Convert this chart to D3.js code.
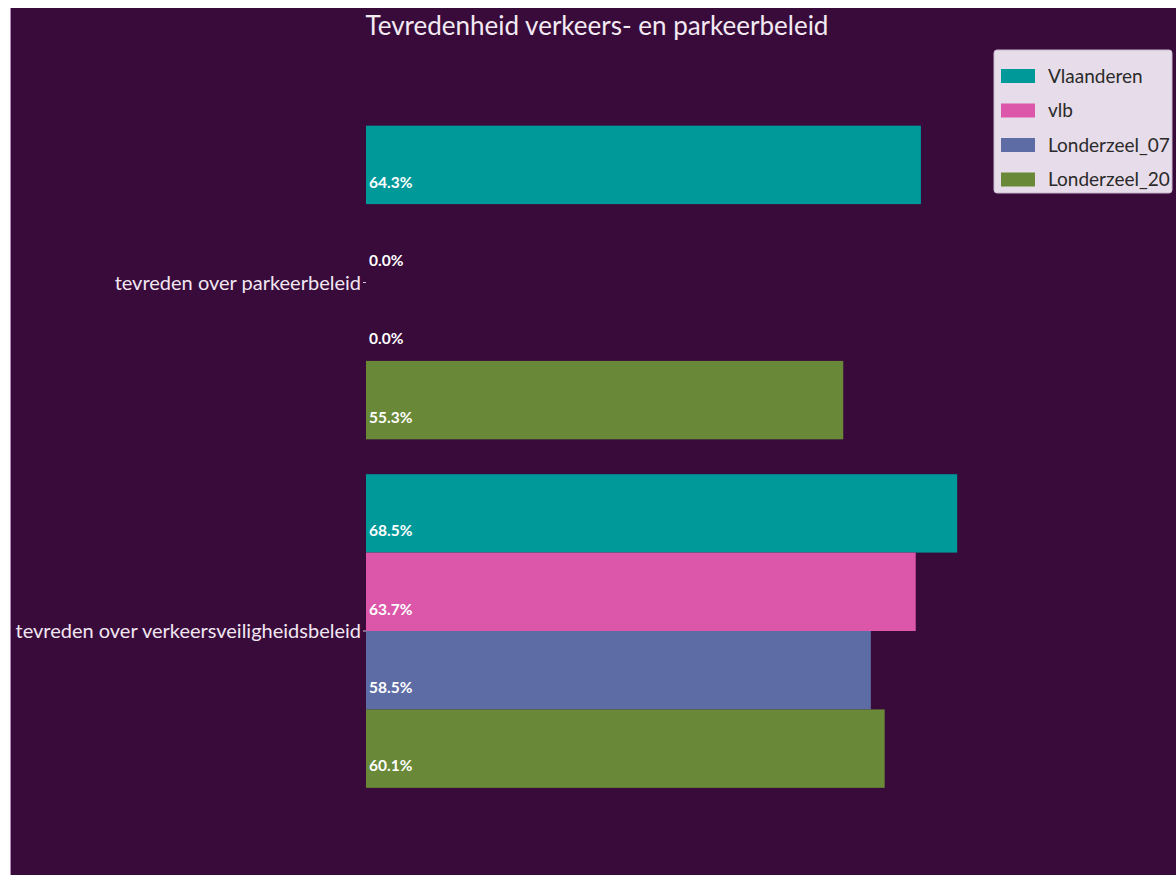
<!DOCTYPE html>
<html>
<head>
<meta charset="utf-8">
<script src="https://cdn.jsdelivr.net/npm/d3@7"></script>
<style>
  body { margin: 0; background: #ffffff; }
  svg { display: block; }
  text { font-family: Lato, "Open Sans", sans-serif; }
</style>
</head>
<body>
<div id="chart"></div>
<script>
// data
var categories = ["tevreden over parkeerbeleid", "tevreden over verkeersveiligheidsbeleid"];
var seriesNames = ["Vlaanderen", "vlb", "Londerzeel_07", "Londerzeel_20"];
var vlaanderen = [64.3, 68.5];
var vlb = [0.0, 63.7];
var londerzeel07 = [0.0, 58.5];
var londerzeel20 = [55.3, 60.1];
var seriesColors = ["#00999a", "#dc57a9", "#5e6ca6", "#6a8938"];

var seriesValues = [vlaanderen, vlb, londerzeel07, londerzeel20];

var data = [];
categories.forEach(function(cat, i) {
  seriesNames.forEach(function(s, j) {
    data.push({ categorie: cat, reeks: s, waarde: seriesValues[j][i] });
  });
});

var W = 1176, H = 875;
var svg = d3.select("#chart")
            .append("svg")
            .attr("width", W)
            .attr("height", H);

// achtergrond
svg.append("rect")
   .attr("x", 10).attr("y", 8)
   .attr("width", W - 10).attr("height", H - 8)
   .attr("fill", "#390b3b");
svg.append("line")
   .attr("x1", 10.5).attr("x2", 10.5)
   .attr("y1", 8).attr("y2", H)
   .attr("stroke", "#b58cb8").attr("stroke-width", 1);

var x = d3.scaleLinear()
          .domain([0, 100])
          .range([366, 366 + 863]);

var y = d3.scaleBand()
          .domain(categories)
          .range([108.25, 805.25])
          .paddingInner(0.1)
          .paddingOuter(0.05);

var yInner = d3.scaleBand()
               .domain(seriesNames)
               .range([0, y.bandwidth()]);

var color = d3.scaleOrdinal()
              .domain(seriesNames)
              .range(seriesColors);

// titel
svg.append("text")
   .attr("x", 597)
   .attr("y", 35)
   .attr("text-anchor", "middle")
   .style("font-size", "26px")
   .style("fill", "#f3e9f3")
   .text("Tevredenheid verkeers- en parkeerbeleid");

// balken
svg.selectAll(".bar")
   .data(data)
   .enter()
   .append("rect")
   .attr("class", "bar")
   .attr("x", x(0))
   .attr("y", d => y(d.categorie) + yInner(d.reeks))
   .attr("width", d => x(d.waarde) - x(0))
   .attr("height", yInner.bandwidth())
   .attr("fill", d => color(d.reeks));

// labels in de balken
svg.selectAll(".bar-label")
   .data(data)
   .enter()
   .append("text")
   .attr("class", "bar-label")
   .attr("x", x(0) + 3)
   .attr("y", d => y(d.categorie) + yInner(d.reeks) + yInner.bandwidth() * 0.79)
   .style("font-size", "15.5px")
   .style("font-weight", "bold")
   .style("fill", "#ffffff")
   .text(d => d.waarde.toFixed(1) + "%");

// y-as
var yAxis = d3.axisLeft(y).tickSize(3).tickPadding(2);
var ga = svg.append("g")
            .attr("class", "axis y-axis")
            .attr("transform", `translate(${x(0)},0)`)
            .call(yAxis);
ga.select(".domain").remove();
ga.selectAll(".tick line").attr("stroke", "#d8c8d8");
ga.selectAll(".tick text")
  .attr("dy", "0.35em")
  .style("font-family", "Lato, 'Open Sans', sans-serif")
  .style("font-size", "20px")
  .style("fill", "#f1e6f1");

// legenda
var legend = svg.append("g").attr("transform", "translate(994,50)");
legend.append("rect")
      .attr("width", 178).attr("height", 143)
      .attr("rx", 3)
      .attr("fill", "#e7dce9")
      .attr("stroke", "#cbb9cd");
var items = legend.selectAll(".legend-item")
                  .data(seriesNames)
                  .enter()
                  .append("g")
                  .attr("class", "legend-item")
                  .attr("transform", (d, i) => `translate(0,${19 + i * 34.5})`);
items.append("rect")
     .attr("x", 7).attr("y", 0)
     .attr("width", 34).attr("height", 14)
     .attr("fill", d => color(d));
items.append("text")
     .attr("x", 54).attr("y", 7)
     .attr("dy", "0.35em")
     .style("font-size", "19px")
     .style("fill", "#2a2a2a")
     .text(d => d);
</script>
</body>
</html>
